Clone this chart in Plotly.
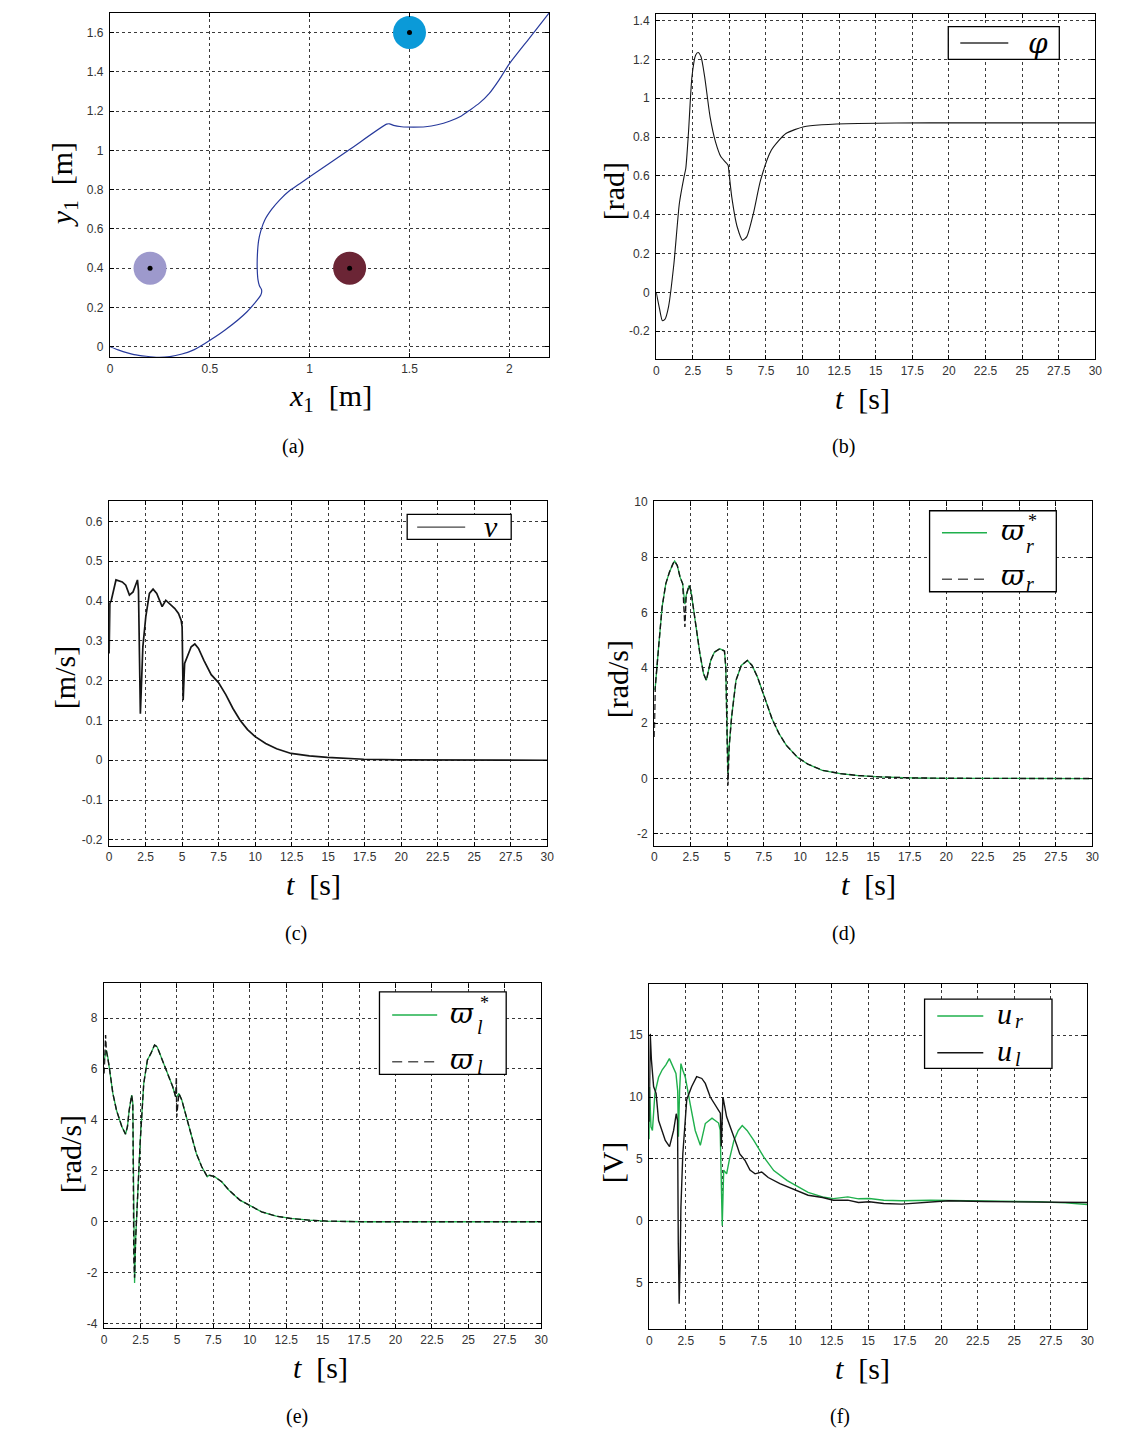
import plotly.graph_objects as go

# ---------------- data ----------------
# (a) robot path in the plane and obstacle positions
path_x = [0, 0.04, 0.12, 0.24, 0.30, 0.36, 0.41, 0.475, 0.576, 0.686, 0.755, 0.759, 0.748,
          0.741, 0.737, 0.738, 0.744, 0.755, 0.775, 0.81, 0.85, 0.90, 0.95, 1.0, 1.2, 1.385,
          1.40, 1.42, 1.46, 1.52, 1.58, 1.64, 1.70, 1.76, 1.80, 1.85, 1.90, 1.95, 2.0, 2.1, 2.2]
path_y = [0, -0.016, -0.04, -0.054, -0.05, -0.037, -0.02, 0.017, 0.085, 0.178, 0.263, 0.29, 0.31,
          0.34, 0.40, 0.47, 0.54, 0.59, 0.645, 0.70, 0.748, 0.795, 0.83, 0.865, 1.004, 1.133,
          1.135, 1.127, 1.12, 1.118, 1.12, 1.13, 1.148, 1.175, 1.203, 1.24, 1.29, 1.36, 1.44, 1.57, 1.70]
obstacle_x = [0.2, 1.2, 1.5]
obstacle_y = [0.4, 0.4, 1.6]
obstacle_colors = ["#9d99cc", "#6b2535", "#0b9ad8"]

# (b) heading angle phi
t_phi = [0, 0.22, 0.42, 0.59, 0.84, 1.21, 1.58, 1.9, 2.02, 2.2, 2.44, 2.69, 2.86, 3.06, 3.31,
         3.68, 4.05, 4.42, 4.91, 4.96, 5.16, 5.53, 5.9, 6.19, 6.64, 7.13, 7.87, 8.86, 10.09,
         11.32, 13.79, 18.7, 30]
phi = [0, -0.082, -0.145, -0.139, -0.074, 0.149, 0.458, 0.595, 0.638, 0.818, 1.11, 1.221, 1.235,
       1.213, 1.11, 0.904, 0.775, 0.698, 0.655, 0.625, 0.492, 0.338, 0.269, 0.287, 0.407, 0.578,
       0.733, 0.818, 0.853, 0.863, 0.87, 0.873, 0.873]

# (c) linear velocity v
t_v = [0, 0.05, 0.15, 0.27, 0.47, 0.9, 1.14, 1.39, 1.64, 1.77, 1.94, 2.01, 2.14, 2.31, 2.51,
       2.76, 3.01, 3.26, 3.63, 3.88, 4.13, 4.5, 4.75, 4.93, 5.0, 5.07, 5.17, 5.37, 5.62, 5.87,
       6.12, 6.49, 6.99, 7.49, 7.99, 8.48, 8.98, 9.48, 9.98, 10.72, 11.47, 12.46, 13.71, 14.95,
       17.44, 19.93, 30]
v = [0.268, 0.394, 0.402, 0.423, 0.453, 0.448, 0.44, 0.415, 0.423, 0.436, 0.453, 0.427, 0.117,
     0.285, 0.36, 0.419, 0.43, 0.419, 0.386, 0.402, 0.394, 0.381, 0.369, 0.352, 0.335, 0.151,
     0.243, 0.26, 0.285, 0.292, 0.281, 0.251, 0.215, 0.195, 0.165, 0.13, 0.1, 0.077, 0.06, 0.042,
     0.029, 0.017, 0.011, 0.007, 0.0025, 0.001, 0]

# (d) right wheel speed: reference and measured
t_wr = [0, 0.07, 0.3, 0.54, 0.79, 1.04, 1.28, 1.4, 1.58, 1.77, 1.95, 2.1, 2.19, 2.39, 2.51,
        2.76, 3.13, 3.38, 3.57, 3.87, 4.12, 4.49, 4.81, 4.9, 5.0, 5.05, 5.13, 5.3, 5.6, 5.96,
        6.38, 6.7, 7.07, 7.57, 8.06, 8.55, 9.05, 9.79, 10.52, 11.51, 12.74, 13.98, 15.45, 17.67,
        20.1, 30]
wr_ref = [3.2, 3.3, 4.75, 6.2, 7.04, 7.46, 7.76, 7.86, 7.7, 7.28, 7.04, 6.3, 6.62, 6.98, 6.8,
          5.84, 4.51, 3.79, 3.55, 4.27, 4.57, 4.69, 4.61, 4.03, 1.2, 0.2, 1.14, 2.23, 3.55, 4.09,
          4.27, 4.09, 3.67, 2.95, 2.17, 1.62, 1.2, 0.78, 0.52, 0.3, 0.18, 0.11, 0.06, 0.024,
          0.01, 0]
wr = [1.5, 3.3, 4.75, 6.2, 7.04, 7.46, 7.76, 7.86, 7.7, 7.28, 7.04, 5.48, 6.62, 6.98, 6.8,
      5.84, 4.51, 3.79, 3.55, 4.27, 4.57, 4.69, 4.61, 4.03, 0.54, -0.25, 1.14, 2.23, 3.55, 4.09,
      4.27, 4.09, 3.67, 2.95, 2.17, 1.62, 1.2, 0.78, 0.52, 0.3, 0.18, 0.11, 0.06, 0.024, 0.01, 0]

# (e) left wheel speed: reference and measured
t_wl = [0, 0.1, 0.15, 0.25, 0.35, 0.6, 0.85, 1.22, 1.47, 1.6, 1.72, 1.89, 1.97, 2.04, 2.09,
        2.17, 2.29, 2.47, 2.72, 2.97, 3.21, 3.46, 3.64, 3.96, 4.34, 4.71, 4.91, 4.96, 4.98,
        5.13, 5.33, 5.58, 5.96, 6.33, 6.7, 7.08, 7.2, 7.58, 8.07, 8.57, 9.32, 10.07, 10.81,
        11.81, 12.81, 14.05, 15.3, 17.79, 30]
wl_ref = [6.35, 6.7, 6.74, 6.48, 6.09, 5.04, 4.38, 3.73, 3.44, 3.73, 4.38, 4.97, 4.65, -1.5,
          -2.4, -0.59, 1.11, 3.08, 5.43, 6.35, 6.61, 6.94, 6.87, 6.41, 5.82, 5.3, 4.91, 4.95,
          4.9, 5.04, 4.78, 4.25, 3.47, 2.68, 2.16, 1.77, 1.83, 1.77, 1.57, 1.24, 0.85, 0.62,
          0.39, 0.22, 0.13, 0.065, 0.026, 0, 0]
wl = [5.82, 7.33, 6.74, 6.48, 6.09, 5.04, 4.38, 3.73, 3.44, 3.73, 4.38, 4.97, 4.65, -1.5, -2.2,
      -0.59, 1.11, 3.08, 5.43, 6.35, 6.61, 6.94, 6.87, 6.41, 5.82, 5.3, 4.91, 5.69, 4.12, 5.04,
      4.78, 4.25, 3.47, 2.68, 2.16, 1.77, 1.83, 1.77, 1.57, 1.24, 0.85, 0.62, 0.39, 0.22, 0.13,
      0.065, 0.026, 0, 0]

# (f) motor voltages
t_ur = [0, 0.02, 0.12, 0.22, 0.39, 0.64, 0.89, 1.14, 1.38, 1.63, 1.83, 1.95, 2.0, 2.08, 2.17,
        2.29, 2.47, 2.81, 3.15, 3.5, 3.84, 4.3, 4.75, 4.86, 4.93, 5.0, 5.1, 5.3, 5.5, 5.8, 6.1,
        6.37, 6.7, 7.16, 7.85, 8.53, 9.45, 10.25, 10.88, 11.87, 12.61, 13.6, 14.33, 15.07,
        16.06, 17.3, 19.27, 21.74, 24.2, 26.67, 28.5, 30]
ur = [6.6, 10.8, 7.6, 7.3, 10.3, 11.6, 12.2, 12.6, 13.1, 12.4, 11.9, 10.5, 6.8, 10.5, 12.7,
      12.2, 11.6, 9.4, 7.3, 6.1, 7.86, 8.3, 7.9, 7.33, 3.0, -0.4, 4.1, 3.8, 5.0, 6.5, 7.3, 7.7,
      7.3, 6.5, 5.14, 4.06, 3.25, 2.7, 2.3, 1.94, 1.8, 1.94, 1.78, 1.8, 1.67, 1.62, 1.67, 1.62,
      1.59, 1.54, 1.45, 1.32]
t_ul = [0, 0.07, 0.15, 0.3, 0.47, 0.64, 0.9, 1.1, 1.39, 1.67, 1.85, 1.94, 1.99, 2.05, 2.12,
        2.17, 2.3, 2.57, 2.91, 3.25, 3.6, 3.84, 4.18, 4.52, 4.87, 4.93, 5.05, 5.3, 5.65, 6.0,
        6.2, 6.55, 6.9, 7.25, 7.7, 8.15, 8.95, 10.1, 10.88, 11.87, 12.61, 13.6, 14.33, 15.07,
        16.06, 17.3, 18.53, 20.5, 22.97, 26.67, 30]
ul = [8.0, 15.1, 13.0, 10.85, 10.3, 8.1, 7.2, 6.5, 6.0, 7.3, 8.65, 8.1, -1.83, -6.7, -3.0, 1.1,
      5.4, 9.8, 10.85, 11.65, 11.5, 11.1, 10.0, 9.4, 8.7, 6.0, 10.0, 8.4, 7.3, 6.1, 5.4, 4.9,
      4.1, 3.8, 3.95, 3.5, 3.0, 2.45, 2.07, 1.89, 1.67, 1.67, 1.48, 1.54, 1.4, 1.35, 1.45, 1.62,
      1.56, 1.51, 1.48]

# tick values and labels
ticks_t = [0, 2.5, 5, 7.5, 10, 12.5, 15, 17.5, 20, 22.5, 25, 27.5, 30]
labels_t = ["0", "2.5", "5", "7.5", "10", "12.5", "15", "17.5", "20", "22.5", "25", "27.5", "30"]
ticks_ax = [0, 0.5, 1, 1.5, 2]
labels_ax = ["0", "0.5", "1", "1.5", "2"]
ticks_ay = [0, 0.2, 0.4, 0.6, 0.8, 1, 1.2, 1.4, 1.6]
labels_ay = ["0", "0.2", "0.4", "0.6", "0.8", "1", "1.2", "1.4", "1.6"]
ticks_by = [-0.2, 0, 0.2, 0.4, 0.6, 0.8, 1, 1.2, 1.4]
labels_by = ["-0.2", "0", "0.2", "0.4", "0.6", "0.8", "1", "1.2", "1.4"]
ticks_cy = [-0.2, -0.1, 0, 0.1, 0.2, 0.3, 0.4, 0.5, 0.6]
labels_cy = ["-0.2", "-0.1", "0", "0.1", "0.2", "0.3", "0.4", "0.5", "0.6"]
ticks_dy = [-2, 0, 2, 4, 6, 8, 10]
labels_dy = ["-2", "0", "2", "4", "6", "8", "10"]
ticks_ey = [-4, -2, 0, 2, 4, 6, 8]
labels_ey = ["-4", "-2", "0", "2", "4", "6", "8"]
ticks_fy = [-5, 0, 5, 10, 15]
labels_fy = ["5", "0", "5", "10", "15"]

# ---------------- layout helpers ----------------
W, H = 1135, 1432
X_SCALE, X_SHIFT = 0.991, 2.9
Y_SCALE, Y_SHIFT = 0.9943, 6.0
GREEN = "#1fb04c"
BLACK = "#151515"
SERIF = "Liberation Serif, DejaVu Serif, serif"
GREEK = "DejaVu Serif, Liberation Serif, serif"
SANS = "Liberation Sans, Arial, sans-serif"


def fx(x):
    """pixel column -> paper x"""
    return (x - X_SHIFT) / X_SCALE / W


def fy(y):
    """pixel row (from top) -> paper y"""
    return 1 - (y - Y_SHIFT) / Y_SCALE / H


# panel boxes in pixels: left, right, top, bottom, then ranges and ticks
panels = [
    (110, 549, 12.8, 357.3, [0, 2.2], [-0.054, 1.70], ticks_ax, labels_ax, ticks_ay, labels_ay),
    (656, 1095, 13.5, 359.0, [0, 30], [-0.343, 1.436], ticks_t, labels_t, ticks_by, labels_by),
    (109, 547, 500.7, 845.7, [0, 30], [-0.215, 0.652], ticks_t, labels_t, ticks_cy, labels_cy),
    (654, 1092, 501.3, 845.7, [0, 30], [-2.43, 10.02], ticks_t, labels_t, ticks_dy, labels_dy),
    (104, 541, 983.3, 1328.3, [0, 30], [-4.19, 9.36], ticks_t, labels_t, ticks_ey, labels_ey),
    (649, 1087, 984.0, 1329.3, [0, 30], [-8.77, 19.12], ticks_t, labels_t, ticks_fy, labels_fy),
]

fig = go.Figure()
axis_style = dict(
    showline=True, linecolor="black", linewidth=1.4, mirror="ticks",
    ticks="inside", ticklen=4, tickwidth=1, tickcolor="black",
    showgrid=True, gridcolor="#3a3a3a", gridwidth=0.9, griddash="3px,3px",
    zeroline=False, tickfont=dict(family=SANS, size=12, color="#333"),
    fixedrange=True,
)
layout_axes = {}
for i, (l, r, t, b, xr, yr, xtv, xtt, ytv, ytt) in enumerate(panels):
    n = "" if i == 0 else str(i + 1)
    layout_axes["xaxis" + n] = dict(axis_style, domain=[fx(l), fx(r)], anchor="y" + n,
                                    range=xr, tickvals=xtv, ticktext=xtt)
    layout_axes["yaxis" + n] = dict(axis_style, domain=[fy(b), fy(t)], anchor="x" + n,
                                    range=yr, tickvals=ytv, ticktext=ytt,
                                    ticklabelstandoff=3)


def line(x, y, ax, color, width=1.2, dash=None, shape="linear"):
    fig.add_trace(go.Scatter(
        x=x, y=y, mode="lines", xaxis="x" + ax, yaxis="y" + ax,
        line=dict(color=color, width=width, dash=dash, shape=shape,
                  smoothing=0.6 if shape == "spline" else None),
        showlegend=False, hoverinfo="skip"))


# (a) path and obstacles
line(path_x, path_y, "", "#283a9c", 1.2, shape="spline")
fig.add_trace(go.Scatter(x=obstacle_x, y=obstacle_y, mode="markers", xaxis="x", yaxis="y",
                         marker=dict(size=33, color=obstacle_colors, line=dict(width=0)),
                         showlegend=False, hoverinfo="skip"))
fig.add_trace(go.Scatter(x=obstacle_x, y=obstacle_y, mode="markers", xaxis="x", yaxis="y",
                         marker=dict(size=5, color="black"), showlegend=False, hoverinfo="skip"))
# (b)
line(t_phi, phi, "2", BLACK, 1.1, shape="spline")
# (c)
line(t_v, v, "3", BLACK, 1.7)
# (d)
line(t_wr, wr_ref, "4", GREEN, 1.3)
line(t_wr, wr, "4", BLACK, 1.4, dash="6px,3px")
# (e)
line(t_wl, wl_ref, "5", GREEN, 1.3)
line(t_wl, wl, "5", BLACK, 1.4, dash="6px,3px")
# (f)
line(t_ur, ur, "6", GREEN, 1.4)
line(t_ul, ul, "6", BLACK, 1.4)

# ---------------- text: axis titles, captions, legends ----------------
annotations = []
shapes = []


def text(x, y, s, size=30, angle=0, family=SERIF, xanchor="center"):
    annotations.append(dict(x=fx(x), y=fy(y), xref="paper", yref="paper", text=s,
                            showarrow=False, textangle=angle, xanchor=xanchor,
                            yanchor="middle", font=dict(family=family, size=size, color="black")))


SP = "\u2002"
# x titles
text(330, 398, "<i>x</i><sub>1</sub>" + SP + "[m]")
text(862, 398, "<i>t</i>" + SP + "[s]")
text(313, 884, "<i>t</i>" + SP + "[s]")
text(868, 884, "<i>t</i>" + SP + "[s]")
text(320, 1367, "<i>t</i>" + SP + "[s]")
text(862, 1368, "<i>t</i>" + SP + "[s]")
# y titles
text(64, 185, "<i>y</i><sub>1</sub>" + SP + "[m]", angle=-90)
text(613, 191, "[rad]", angle=-90)
text(64, 678, "[m/s]", angle=-90)
text(617, 679, "[rad/s]", angle=-90)
text(70, 1154, "[rad/s]", angle=-90)
text(612, 1162, "[V]", angle=-90)
# captions
for cx, cy, c in [(293, 446, "(a)"), (843, 446, "(b)"), (296, 933, "(c)"),
                  (843, 933, "(d)"), (297, 1416, "(e)"), (840, 1416, "(f)")]:
    text(cx, cy, c, size=20)


def box(l, t, r, b):
    shapes.append(dict(type="rect", xref="paper", yref="paper", x0=fx(l), x1=fx(r),
                       y0=fy(b), y1=fy(t), line=dict(color="black", width=1.3),
                       fillcolor="white", layer="above"))


def sample(x0, x1, y, color, dash=None, width=1.3):
    shapes.append(dict(type="line", xref="paper", yref="paper", x0=fx(x0), x1=fx(x1),
                       y0=fy(y), y1=fy(y), line=dict(color=color, width=width, dash=dash),
                       layer="above"))


# legend (b)
box(948, 26.7, 1059, 59.3)
sample(960, 1008, 43, "#333")
text(1038, 43, "<i>φ</i>", size=28, family=GREEK)
# legend (c)
box(407, 514.3, 511, 539.3)
sample(417, 465, 527, "#444")
text(491, 526, "<i>v</i>", size=30)
# legend (d)
box(929.3, 510.7, 1056, 591.7)
sample(941.7, 986.7, 532.7, GREEN, width=1.5)
text(1013, 530, "<i>ϖ</i>", size=28, family=GREEK)
text(1032, 521, "*", size=18)
text(1030, 546, "<i>r</i>", size=20)
sample(941.7, 986.7, 579.3, "#555", dash="10px,6px", width=1.5)
text(1013, 575, "<i>ϖ</i>", size=28, family=GREEK)
text(1030, 584, "<i>r</i>", size=20)
# legend (e)
box(379.3, 991.7, 506, 1074.3)
sample(392, 437, 1015, GREEN, width=1.5)
text(462, 1013, "<i>ϖ</i>", size=28, family=GREEK)
text(484, 1003, "*", size=18)
text(480, 1027, "<i>l</i>", size=20)
sample(392, 437, 1061.7, "#555", dash="10px,6px", width=1.5)
text(462, 1059, "<i>ϖ</i>", size=28, family=GREEK)
text(480, 1067, "<i>l</i>", size=20)
# legend (f)
box(924.3, 999, 1051.7, 1068.3)
sample(937, 983, 1016, GREEN, width=1.5)
text(1004, 1013, "<i>u</i>", size=30)
text(1019, 1021, "<i>r</i>", size=20)
sample(937, 983, 1052.7, BLACK, width=1.5)
text(1004, 1050, "<i>u</i>", size=30)
text(1018, 1059, "<i>l</i>", size=20)

fig.update_layout(
    width=W, height=H, margin=dict(l=0, r=0, t=0, b=0),
    paper_bgcolor="white", plot_bgcolor="white",
    annotations=annotations, shapes=shapes, showlegend=False,
    **layout_axes,
)
fig.write_html("out.html", config={"displayModeBar": False})
